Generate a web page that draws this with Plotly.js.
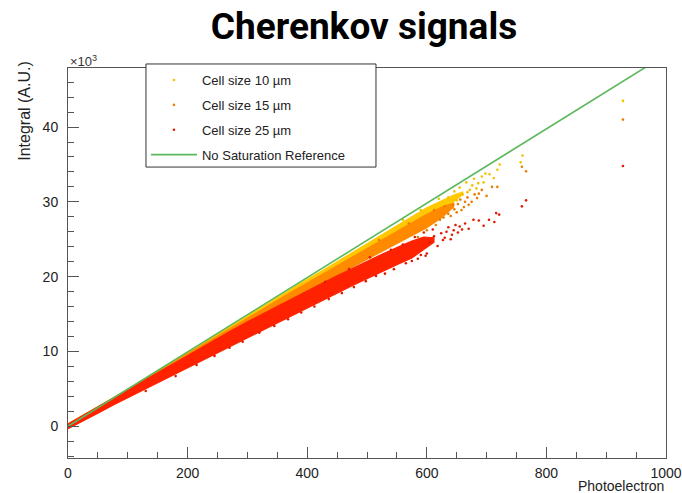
<!DOCTYPE html>
<html>
<head>
<meta charset="utf-8">
<script src="https://cdn.plot.ly/plotly-3.0.1.min.js"></script>
<style>
  html, body { margin: 0; padding: 0; background: #fff; }
  #chart { width: 682px; height: 493px; }
</style>
</head>
<body>
<div id="chart"></div>
<script>
// Integral values are in units of 10^3 (A.U.), photoelectron counts on x.

// Dense core of each population: upper / lower edge of the band
const peBand10 = [0,25,50,75,100,125,150,175,200,225,250,275,300,325,350,375,400,425,450,475,500,525,550,575,600,625,645,660];
const upper10 = [0.3,1.5,2.6,3.75,5.0,6.25,7.4,8.7,9.9,11.05,12.35,13.5,14.75,16.0,17.15,18.4,19.65,20.8,22.0,23.3,24.45,25.6,26.9,28.0,29.2,30.15,30.9,31.3];
const lower10 = [-0.2,0.95,2.05,3.3,4.4,5.65,6.8,8.05,9.2,10.45,11.55,12.8,13.95,15.2,16.3,17.55,18.65,19.85,20.95,22.2,23.3,24.5,25.6,26.8,27.85,29.0,30.0,31.0];

const peBand15 = [0,25,50,75,100,125,150,175,200,225,250,275,300,325,350,375,400,425,450,475,500,525,550,575,600,625,645];
const upper15 = [0.25,1.4,2.55,3.75,4.9,6.1,7.3,8.5,9.7,10.9,12.05,13.25,14.45,15.65,16.8,18.0,19.15,20.3,21.5,22.65,23.8,24.95,26.1,27.2,28.35,29.3,29.8];
const lower15 = [-0.25,0.85,2.0,3.15,4.3,5.45,6.6,7.7,8.85,9.95,11.1,12.2,13.35,14.5,15.6,16.75,17.9,19.0,20.15,21.25,22.4,23.45,24.5,25.5,26.55,27.9,29.3];

const peBand25 = [0,25,50,75,100,125,150,175,200,225,250,275,300,325,350,375,400,425,450,475,500,525,550,575,595,612];
const upper25 = [0.3,1.45,2.55,3.7,4.85,6.0,7.15,8.3,9.45,10.6,11.7,12.85,13.95,15.0,16.05,17.1,18.1,19.1,20.1,21.1,22.1,23.0,23.9,24.75,25.3,25.2];
const lower25 = [-0.35,0.7,1.75,2.8,3.8,4.8,5.85,6.85,7.9,8.9,9.9,10.9,11.9,12.85,13.85,14.8,15.8,16.8,17.8,18.8,19.8,20.7,21.6,22.5,23.6,24.6];

// Individual events along the band edges and in the sparse high-pe tail
const pe10 = [560,590,620,636,640,646,650,655,660,666,668,672,676,679,683,686,692,695,698,705,712,718,722,757,760,928];
const sig10 = [27.6,28.9,30.4,30.6,29.7,31.4,30.2,31.9,31.0,32.6,31.3,31.6,32.2,33.1,31.8,32.5,33.4,32.6,33.8,33.7,33.2,34.3,35.0,35.3,36.2,43.5];

const pe15 = [420,462,505,530,560,585,600,615,520,570,612,622,628,630,636,640,644,646,650,652,656,658,662,664,668,670,675,680,684,687,692,700,709,718,759,766,928];
const sig15 = [18.3,20.3,22.1,23.0,24.2,25.3,26.2,26.9,24.9,27.1,28.9,27.6,27.9,29.4,28.4,28.1,29.6,29.0,28.6,29.7,30.3,28.9,29.3,30.0,30.6,29.6,30.0,31.0,30.5,31.1,31.6,30.8,32.0,32.0,34.7,34.1,41.0];

const pe25 = [130,180,215,245,270,292,320,345,368,390,412,436,458,478,498,515,530,545,565,575,585,590,598,600,430,470,505,540,560,580,595,605,610,612,618,624,627,630,633,636,640,642,645,648,652,655,659,664,670,678,687,695,704,713,716,721,759,766,928];
const sig25 = [4.7,6.7,8.2,9.4,10.5,11.3,12.5,13.4,14.3,15.2,16.0,17.0,17.8,18.6,19.4,20.1,20.4,21.0,21.8,22.1,22.4,22.9,22.8,23.1,19.3,21.0,22.6,23.6,24.3,25.3,25.9,24.6,26.3,25.4,24.1,25.8,24.9,25.2,26.0,26.6,25.0,25.6,26.2,26.9,25.9,26.7,26.3,27.1,26.4,27.6,27.5,26.8,27.6,27.3,28.5,28.3,29.4,30.2,34.8];

// Ideal linear response without saturation
const peRef = [0, 1000];
const sigRef = [0, 49.7];

const seriesNames = ['Cell size 10 \u00b5m', 'Cell size 15 \u00b5m', 'Cell size 25 \u00b5m', 'No Saturation Reference'];
const bandColors = ['#ffc800', '#ff8a00', '#ff2200'];
const eventColors = ['#f2c200', '#e87d00', '#dd1c00'];
const refColor = '#5cb85c';

function band(pe, up, lo, color, group) {
  return {
    type: 'scatter', mode: 'lines',
    x: pe.concat(pe.slice().reverse()),
    y: up.concat(lo.slice().reverse()),
    fill: 'toself', fillcolor: color,
    line: { color: color, width: 1.2 },
    legendgroup: group, showlegend: false, hoverinfo: 'skip'
  };
}
function events(pe, sig, color, name, group) {
  return {
    type: 'scatter', mode: 'markers', x: pe, y: sig, name: name,
    marker: { color: color, size: 2.6 },
    legendgroup: group, showlegend: true
  };
}

const traces = [
  band(peBand10, upper10, lower10, bandColors[0], 'g10'),
  events(pe10, sig10, eventColors[0], seriesNames[0], 'g10'),
  band(peBand15, upper15, lower15, bandColors[1], 'g15'),
  events(pe15, sig15, eventColors[1], seriesNames[1], 'g15'),
  band(peBand25, upper25, lower25, bandColors[2], 'g25'),
  events(pe25, sig25, eventColors[2], seriesNames[2], 'g25'),
  { type: 'scatter', mode: 'lines', x: peRef, y: sigRef, name: seriesNames[3],
    line: { color: refColor, width: 1.6 }, legendgroup: 'ref' }
];

const axisFont = { family: 'Liberation Sans, Arial, sans-serif', size: 14, color: '#222' };
const frame = '#555';

const layout = {
  width: 682, height: 493,
  margin: { l: 68, r: 16, t: 68, b: 35 },
  paper_bgcolor: '#fff', plot_bgcolor: '#fff',
  showlegend: true,
  title: {
    text: 'Cherenkov signals',
    font: { family: 'Roboto, Arial, sans-serif', size: 37, color: '#000', weight: 700 },
    xref: 'paper', x: 0.495, xanchor: 'center',
    yref: 'container', y: 0.947, yanchor: 'middle'
  },
  xaxis: {
    range: [0, 1000], tick0: 0, dtick: 200,
    showline: true, linecolor: frame, linewidth: 1, mirror: true,
    ticks: 'inside', ticklen: 11, tickwidth: 1, tickcolor: frame,
    minor: { dtick: 50, ticks: 'inside', ticklen: 6, tickwidth: 1, tickcolor: frame, showgrid: false },
    showgrid: false, zeroline: false, tickfont: axisFont, ticklabelstandoff: 2
  },
  yaxis: {
    range: [-4.25, 47.9], tick0: 0, dtick: 10,
    showline: true, linecolor: frame, linewidth: 1, mirror: true,
    ticks: 'inside', ticklen: 11, tickwidth: 1, tickcolor: frame,
    minor: { dtick: 2, ticks: 'inside', ticklen: 6, tickwidth: 1, tickcolor: frame, showgrid: false },
    showgrid: false, zeroline: false, tickfont: axisFont, ticklabelstandoff: 6
  },
  legend: {
    x: 0.1304, xanchor: 'left', y: 1.0077, yanchor: 'top',
    bgcolor: 'rgba(0,0,0,0)', borderwidth: 0,
    font: { family: 'Liberation Sans, Arial, sans-serif', size: 13, color: '#222' },
    traceorder: 'grouped', tracegroupgap: 5, itemwidth: 46
  },
  shapes: [{
    type: 'rect', xref: 'paper', yref: 'paper', layer: 'above',
    x0: 0.1304, x1: 0.515, y0: 0.746, y1: 1.0103,
    line: { color: '#333', width: 1 }, fillcolor: '#fff'
  }],
  annotations: [
    { text: '\u00d710<sup>3</sup>', xref: 'paper', yref: 'paper', x: 0, y: 1.018,
      xanchor: 'left', yanchor: 'middle', showarrow: false,
      font: { family: 'Liberation Sans, Arial, sans-serif', size: 13, color: '#333' } },
    { text: 'Photoelectron', xref: 'paper', yref: 'paper', x: 1, y: -0.072,
      xanchor: 'right', yanchor: 'middle', showarrow: false, font: axisFont },
    { text: 'Integral (A.U.)', xref: 'paper', yref: 'paper', x: -0.072, y: 1.0235,
      xanchor: 'center', yanchor: 'top', textangle: -90, showarrow: false,
      font: { family: 'Liberation Sans, Arial, sans-serif', size: 16, color: '#222' } }
  ]
};

Plotly.newPlot('chart', traces, layout, { staticPlot: true, displayModeBar: false });
</script>
</body>
</html>
